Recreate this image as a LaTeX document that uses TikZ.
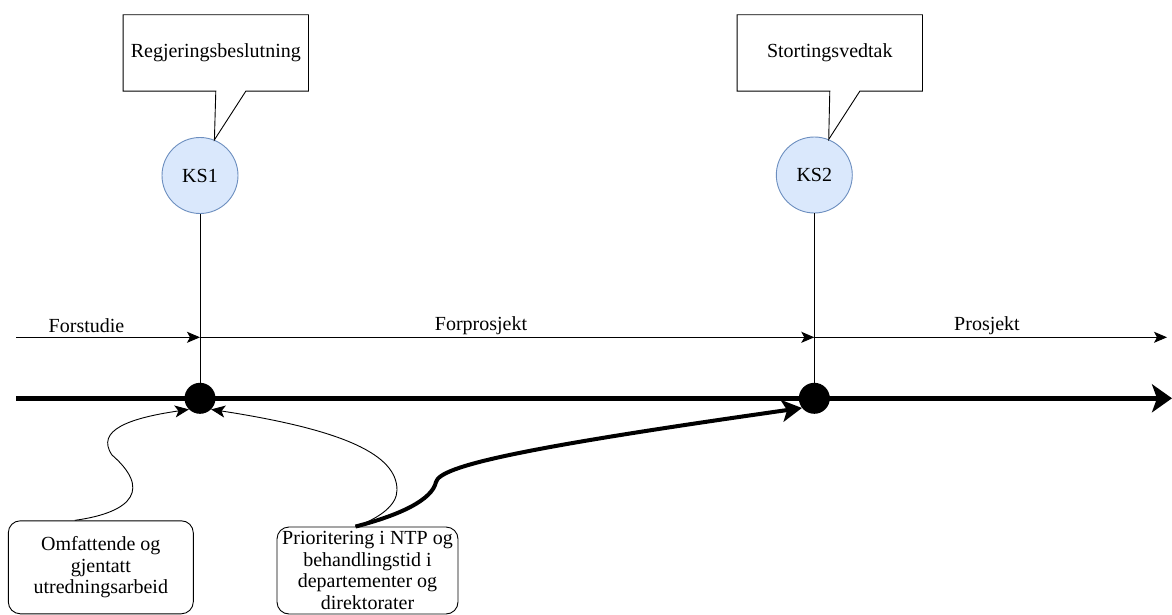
\documentclass[tikz,border=0pt]{standalone}
\usepackage{fontspec}
\setmainfont{Liberation Serif}
\usetikzlibrary{arrows.meta,calc}
\begin{document}
\begin{tikzpicture}[x=1pt,y=-1pt,
  every node/.style={font=\fontsize{20}{21.6}\selectfont},
  gate/.style={circle,draw=blue!45!gray,fill=blue!12!white,draw={rgb,255:red,108;green,142;blue,191},fill={rgb,255:red,218;green,232;blue,252},line width=0.9pt,minimum size=76pt,inner sep=0pt},
  milestone/.style={circle,fill=black,minimum size=31pt,inner sep=0pt},
  calloutbox/.style={minimum width=185pt,minimum height=76pt,inner sep=0pt},
  notebox/.style={draw,rounded corners=12pt,line width=0.9pt,align=center,inner sep=0pt},
  phase/.style={line width=0.9pt,-{Stealth[length=13pt,width=11pt,inset=3pt]}},
  thinlink/.style={line width=0.9pt,-{Stealth[length=14pt,width=12pt,inset=3.5pt]}},
  thicklink/.style={line width=4pt,-{Stealth[length=20pt,width=22pt,inset=5pt]}},
]
\useasboundingbox (0,0) rectangle (1172,615);

% decision gates
\node[gate] (ks1) at (200,175.5) {KS1};
\node[gate] (ks2) at (814.3,175) {KS2};

% callouts above the gates
\node[calloutbox] (cb1) at (215.8,53) {Regjeringsbeslutning};
\node[calloutbox] (cb2) at (829.8,53) {Stortingsvedtak};
\draw[line width=0.9pt,line join=miter] (cb1.north west) -- (cb1.north east) -- (cb1.south east)
  -- ([xshift=122.7pt]cb1.south west) -- (ks1.68) -- ([xshift=92.7pt]cb1.south west)
  -- (cb1.south west) -- cycle;
\draw[line width=0.9pt,line join=miter] (cb2.north west) -- (cb2.north east) -- (cb2.south east)
  -- ([xshift=122.7pt]cb2.south west) -- (ks2.68) -- ([xshift=92.7pt]cb2.south west)
  -- (cb2.south west) -- cycle;

% milestones on the main time line
\node[milestone] (d1) at (200,398.3) {};
\node[milestone] (d2) at (814.3,398.3) {};
\draw[line width=0.9pt] (ks1.south) -- (d1.center);
\draw[line width=0.9pt] (ks2.south) -- (d2.center);

% main time line
\coordinate (m0) at (16,398.3);
\coordinate (m1) at (1172,398.3);
\draw[line width=5.5pt,-{Stealth[length=20pt,width=28pt,inset=5pt]}] (m0) -- (m1);

% phases
\coordinate (p0) at (16,337.3);
\coordinate (p1) at (ks1 |- p0);
\coordinate (p2) at (ks2 |- p0);
\coordinate (p3) at (1167,337.3);
\draw[phase] (p0) -- (p1);
\draw[phase] (p1) -- (p2);
\draw[phase] (p2) -- (p3);
\node (f1) at (86.5,326) {Forstudie};
\node (f2) at (481,326) {Forprosjekt};
\node (f3) at (987,326) {Prosjekt};

% notes
\node[notebox,minimum width=185pt,minimum height=93pt] (b1) at (100.8,567.3)
  {Omfattende og\\gjentatt\\utredningsarbeid};
\node[notebox,minimum width=181pt,minimum height=87pt] (b2) at (367.5,570.5)
  {Prioritering i NTP og\\behandlingstid i\\departementer og\\direktorater};

% influences on the milestones
\draw[thinlink] ([xshift=-26pt]b1.north) .. controls (135,512) and (150,488) .. (112,455)
  .. controls (95,430) and (130,418) .. (d1.225);
\draw[thinlink] ([xshift=-12pt]b2.north) .. controls (380,518) and (397,505) .. (397,490)
  .. controls (397,455) and (345,430) .. (d1.-45);
\draw[thicklink] ([xshift=-12pt]b2.north) .. controls (400,515) and (432,500) .. (436,482)
  .. controls (440,466) and (520,448) .. (d2.218);
\end{tikzpicture}
\end{document}
